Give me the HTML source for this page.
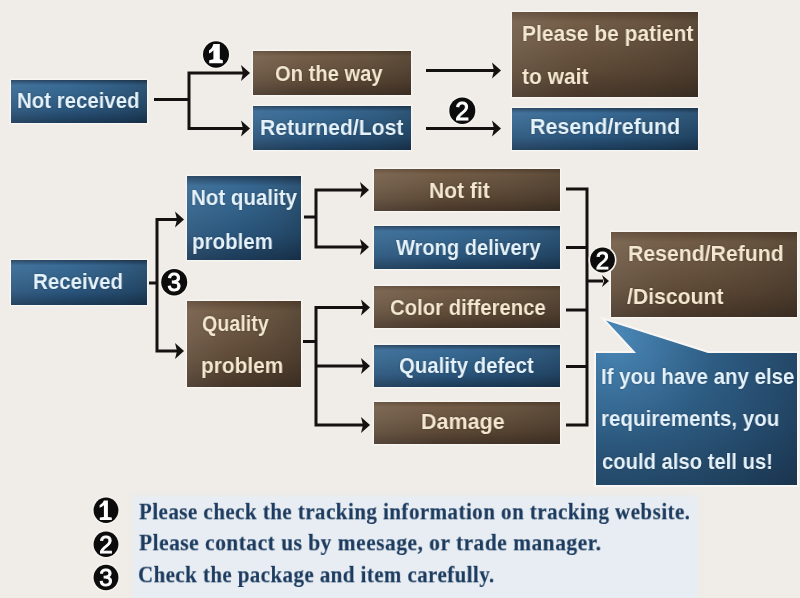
<!DOCTYPE html>
<html><head><meta charset="utf-8"><style>
html,body{margin:0;padding:0;}
body{width:800px;height:598px;overflow:hidden;background:#f0ece7;position:relative;}
.bx{position:absolute;box-sizing:border-box;}
.blue{background:linear-gradient(to right,rgba(255,255,255,0.05) 0%,rgba(0,0,0,0) 40%,rgba(0,0,0,0.12) 80%,rgba(0,0,0,0.22) 100%),linear-gradient(to bottom,#24415e 0%,#396b96 12%,#34648c 35%,#2a557c 70%,#1c3b58 100%);box-shadow:0 0 2px 1px rgba(255,255,255,0.75);}
.brown{background:linear-gradient(to right,rgba(255,255,255,0.07) 0%,rgba(0,0,0,0) 35%,rgba(0,0,0,0.1) 75%,rgba(0,0,0,0.2) 100%),linear-gradient(to bottom,#5e4936 0%,#735d47 12%,#6a5541 40%,#5d4936 70%,#47372a 100%);box-shadow:0 0 2px 1px rgba(255,255,255,0.75);}
.t{position:absolute;font-family:"Liberation Sans",sans-serif;font-weight:bold;font-size:22.5px;line-height:22.5px;white-space:nowrap;transform-origin:0 0;will-change:transform;text-shadow:0 0 2px rgba(0,0,0,0.35);}
.tb{color:#e4f2fb;}
.tr{color:#f4e8d0;}
.notes{position:absolute;font-family:"Liberation Serif",serif;font-weight:bold;font-size:26px;line-height:26px;color:#1c3b5f;-webkit-text-stroke:0.2px #1c3b5f;white-space:nowrap;transform-origin:0 0;will-change:transform;}
</style></head><body><div id="wrap" style="position:absolute;left:0;top:0;width:800px;height:598px;filter:blur(0.3px)">

<div class="bx blue" style="left:11px;top:80px;width:136px;height:43px"></div>
<div class="bx brown" style="left:253px;top:51px;width:158px;height:44px"></div>
<div class="bx blue" style="left:253px;top:106px;width:158px;height:44px"></div>
<div class="bx brown" style="left:512px;top:12px;width:186px;height:85px"></div>
<div class="bx blue" style="left:512px;top:108px;width:186px;height:42px"></div>
<div class="bx blue" style="left:11px;top:260px;width:136px;height:45px"></div>
<div class="bx blue" style="left:187px;top:176px;width:114px;height:84px"></div>
<div class="bx brown" style="left:187px;top:301px;width:114px;height:86px"></div>
<div class="bx brown" style="left:374px;top:169px;width:186px;height:42px"></div>
<div class="bx blue" style="left:374px;top:226px;width:186px;height:43px"></div>
<div class="bx brown" style="left:374px;top:286px;width:186px;height:42px"></div>
<div class="bx blue" style="left:374px;top:345px;width:186px;height:42px"></div>
<div class="bx brown" style="left:374px;top:402px;width:186px;height:42px"></div>
<div class="bx brown" style="left:611px;top:232px;width:186px;height:85px"></div>
<svg class="bx" style="left:0;top:0;will-change:transform" width="800" height="598" viewBox="0 0 800 598">
<defs>
<radialGradient id="cg" gradientUnits="userSpaceOnUse" cx="615" cy="335" r="230">
<stop offset="0" stop-color="#4a88b8"/>
<stop offset="0.45" stop-color="#2e5d84"/>
<stop offset="1" stop-color="#1f3f5e"/>
</radialGradient>
<linearGradient id="cd" x1="0" y1="0" x2="0" y2="1">
<stop offset="0" stop-color="#000" stop-opacity="0"/>
<stop offset="0.6" stop-color="#000" stop-opacity="0"/>
<stop offset="1" stop-color="#000" stop-opacity="0.12"/>
</linearGradient>
<linearGradient id="cr" gradientUnits="userSpaceOnUse" x1="596" y1="0" x2="797" y2="0">
<stop offset="0" stop-color="#000" stop-opacity="0"/>
<stop offset="0.7" stop-color="#000" stop-opacity="0.02"/>
<stop offset="1" stop-color="#000" stop-opacity="0.04"/>
</linearGradient>
</defs>
<path d="M596,353 L636,353 L606,320.5 L708,353 L797,353 L797,485 L596,485 Z" fill="none" stroke="#ffffff" stroke-opacity="0.6" stroke-width="4"/>
<path d="M596,353 L636,353 L606,320.5 L708,353 L797,353 L797,485 L596,485 Z" fill="url(#cg)"/>
<path d="M596,353 L636,353 L606,320.5 L708,353 L797,353 L797,485 L596,485 Z" fill="url(#cd)"/>
<path d="M596,353 L636,353 L606,320.5 L708,353 L797,353 L797,485 L596,485 Z" fill="url(#cr)"/>
</svg>
<div class="t tb" style="left:17.09px;top:90.45px;transform:scaleX(0.9077)">Not received</div>
<div class="t tr" style="left:275.00px;top:62.55px;transform:scaleX(0.8962)">On the way</div>
<div class="t tb" style="left:260.06px;top:117.45px;transform:scaleX(0.9407)">Returned/Lost</div>
<div class="t tr" style="left:521.57px;top:22.95px;transform:scaleX(0.9327)">Please be patient</div>
<div class="t tr" style="left:522.00px;top:66.45px;transform:scaleX(0.9327)">to wait</div>
<div class="t tb" style="left:529.75px;top:116.45px;transform:scaleX(0.9533)">Resend/refund</div>
<div class="t tb" style="left:32.59px;top:271.45px;transform:scaleX(0.9117)">Received</div>
<div class="t tb" style="left:191.29px;top:186.55px;transform:scaleX(0.9116)">Not quality</div>
<div class="t tb" style="left:191.59px;top:230.75px;transform:scaleX(0.9116)">problem</div>
<div class="t tr" style="left:201.60px;top:313.45px;transform:scaleX(0.8755)">Quality</div>
<div class="t tr" style="left:200.67px;top:355.45px;transform:scaleX(0.9268)">problem</div>
<div class="t tr" style="left:429.06px;top:179.95px;transform:scaleX(0.9352)">Not fit</div>
<div class="t tb" style="left:395.75px;top:236.95px;transform:scaleX(0.8926)">Wrong delivery</div>
<div class="t tr" style="left:390.10px;top:296.65px;transform:scaleX(0.9028)">Color difference</div>
<div class="t tb" style="left:398.50px;top:354.70px;transform:scaleX(0.9056)">Quality defect</div>
<div class="t tr" style="left:421.04px;top:411.20px;transform:scaleX(0.9561)">Damage</div>
<div class="t tr" style="left:627.56px;top:242.95px;transform:scaleX(0.9438)">Resend/Refund</div>
<div class="t tr" style="left:627.00px;top:285.75px;transform:scaleX(0.9417)">/Discount</div>
<div class="t tb" style="left:601.49px;top:366.45px;transform:scaleX(0.9101)">If you have any else</div>
<div class="t tb" style="left:601.49px;top:408.45px;transform:scaleX(0.9146)">requirements, you</div>
<div class="t tb" style="left:602.40px;top:451.15px;transform:scaleX(0.8996)">could also tell us!</div>
<svg class="bx" style="left:0;top:0;will-change:transform" width="800" height="598" viewBox="0 0 800 598">
<path d="M154,99.5 L189,99.5" fill="none" stroke="#141210" stroke-width="3.0" stroke-linecap="butt" stroke-linejoin="miter"/>
<path d="M243,73 L189,73 L189,128.5 L243,128.5" fill="none" stroke="#141210" stroke-width="3.0" stroke-linecap="butt" stroke-linejoin="miter"/>
<path d="M250,73 L241,65 L243,73 L241,81 Z" fill="#141210"/>
<path d="M250,128.5 L241,120.5 L243,128.5 L241,136.5 Z" fill="#141210"/>
<path d="M426,70.5 L494,70.5" fill="none" stroke="#141210" stroke-width="3.0" stroke-linecap="butt" stroke-linejoin="miter"/>
<path d="M501,70.5 L492,62.5 L494,70.5 L492,78.5 Z" fill="#141210"/>
<path d="M426,128.5 L494,128.5" fill="none" stroke="#141210" stroke-width="3.0" stroke-linecap="butt" stroke-linejoin="miter"/>
<path d="M501,128.5 L492,120.5 L494,128.5 L492,136.5 Z" fill="#141210"/>
<path d="M149,283 L157,283" fill="none" stroke="#141210" stroke-width="3.0" stroke-linecap="butt" stroke-linejoin="miter"/>
<path d="M177,219.5 L157,219.5 L157,351 L177,351" fill="none" stroke="#141210" stroke-width="3.0" stroke-linecap="butt" stroke-linejoin="miter"/>
<path d="M184,219.5 L175,211.5 L177,219.5 L175,227.5 Z" fill="#141210"/>
<path d="M184,351 L175,343 L177,351 L175,359 Z" fill="#141210"/>
<path d="M304,217 L316,217" fill="none" stroke="#141210" stroke-width="3.0" stroke-linecap="butt" stroke-linejoin="miter"/>
<path d="M362,190 L316,190 L316,247 L362,247" fill="none" stroke="#141210" stroke-width="3.0" stroke-linecap="butt" stroke-linejoin="miter"/>
<path d="M369,190 L360,182 L362,190 L360,198 Z" fill="#141210"/>
<path d="M369,247 L360,239 L362,247 L360,255 Z" fill="#141210"/>
<path d="M303,341.5 L316,341.5" fill="none" stroke="#141210" stroke-width="3.0" stroke-linecap="butt" stroke-linejoin="miter"/>
<path d="M363,307.5 L316,307.5 L316,425 L363,425" fill="none" stroke="#141210" stroke-width="3.0" stroke-linecap="butt" stroke-linejoin="miter"/>
<path d="M316,366 L363,366" fill="none" stroke="#141210" stroke-width="3.0" stroke-linecap="butt" stroke-linejoin="miter"/>
<path d="M370,307.5 L361,299.5 L363,307.5 L361,315.5 Z" fill="#141210"/>
<path d="M370,366 L361,358 L363,366 L361,374 Z" fill="#141210"/>
<path d="M370,425 L361,417 L363,425 L361,433 Z" fill="#141210"/>
<path d="M566,189 L587,189 L587,425 L566,425" fill="none" stroke="#141210" stroke-width="3.0" stroke-linecap="butt" stroke-linejoin="miter"/>
<path d="M566,247.5 L587,247.5" fill="none" stroke="#141210" stroke-width="3.0" stroke-linecap="butt" stroke-linejoin="miter"/>
<path d="M566,310 L587,310" fill="none" stroke="#141210" stroke-width="3.0" stroke-linecap="butt" stroke-linejoin="miter"/>
<path d="M566,366.5 L587,366.5" fill="none" stroke="#141210" stroke-width="3.0" stroke-linecap="butt" stroke-linejoin="miter"/>
<path d="M587,281 L603,281" fill="none" stroke="#141210" stroke-width="3" stroke-linecap="butt" stroke-linejoin="miter"/>
<path d="M609,281 L602,275 L604,281 L602,287 Z" fill="#141210"/>
<ellipse cx="216" cy="54.5" rx="14.6" ry="14.799999999999999" fill="#f6f3ee"/><ellipse cx="216" cy="54.5" rx="13" ry="13.2" fill="#0c0c0c"/><text x="216" y="64.0" text-anchor="middle" font-family='"Liberation Serif",serif' font-weight="bold" font-size="27" fill="#ffffff" stroke="#ffffff" stroke-width="0"></text>
<path d="M213.4,44 L219.8,44 L219.8,59.3 L222.8,60.2 L222.8,63.2 L209.2,63.2 L209.2,60.2 L213.4,59.3 L213.4,50.2 Q211.6,52.4 209.0,53.6 L209.0,50.4 Q212.2,48.6 213.4,44 Z" fill="#ffffff"/>
<ellipse cx="462.3" cy="110.7" rx="14.6" ry="14.799999999999999" fill="#f6f3ee"/><ellipse cx="462.3" cy="110.7" rx="13" ry="13.2" fill="#0c0c0c"/><text x="462.3" y="119.5" text-anchor="middle" font-family='"Liberation Sans",sans-serif' font-weight="normal" font-size="25" fill="#ffffff" stroke="#ffffff" stroke-width="0.9">2</text>
<ellipse cx="174.2" cy="282.2" rx="14.6" ry="14.799999999999999" fill="#f6f3ee"/><ellipse cx="174.2" cy="282.2" rx="13" ry="13.2" fill="#0c0c0c"/><text x="174.2" y="291.0" text-anchor="middle" font-family='"Liberation Sans",sans-serif' font-weight="normal" font-size="25" fill="#ffffff" stroke="#ffffff" stroke-width="0.9">3</text>
<ellipse cx="602.5" cy="260" rx="14.0" ry="14.0" fill="#f6f3ee"/><ellipse cx="602.5" cy="260" rx="12.4" ry="12.4" fill="#0c0c0c"/><text x="602.5" y="268.5" text-anchor="middle" font-family='"Liberation Sans",sans-serif' font-weight="normal" font-size="24" fill="#ffffff" stroke="#ffffff" stroke-width="0.9">2</text>
<ellipse cx="106" cy="510.3" rx="14.0" ry="14.4" fill="#f6f3ee"/><ellipse cx="106" cy="510.3" rx="12.4" ry="12.8" fill="#0c0c0c"/><text x="106" y="518.8" text-anchor="middle" font-family='"Liberation Sans",sans-serif' font-weight="normal" font-size="24" fill="#ffffff" stroke="#ffffff" stroke-width="1.1"></text>
<path d="M103.9,500.4 L107.9,500.4 L107.9,516.9 L111.8,517.4 L111.8,519.9 L99.8,519.9 L99.8,517.4 L103.9,516.9 L103.9,505.2 Q102.0,506.9 99.6,507.7 L99.6,505.3 Q102.7,503.7 103.9,500.4 Z" fill="#ffffff"/>
<ellipse cx="106" cy="544.3" rx="14.0" ry="14.4" fill="#f6f3ee"/><ellipse cx="106" cy="544.3" rx="12.4" ry="12.8" fill="#0c0c0c"/><text x="106" y="552.8" text-anchor="middle" font-family='"Liberation Sans",sans-serif' font-weight="normal" font-size="24" fill="#ffffff" stroke="#ffffff" stroke-width="0.9">2</text>
<ellipse cx="106" cy="577.5" rx="14.0" ry="14.4" fill="#f6f3ee"/><ellipse cx="106" cy="577.5" rx="12.4" ry="12.8" fill="#0c0c0c"/><text x="106" y="586.0" text-anchor="middle" font-family='"Liberation Sans",sans-serif' font-weight="normal" font-size="24" fill="#ffffff" stroke="#ffffff" stroke-width="0.9">3</text>
</svg>
<div class="bx" style="left:135px;top:497px;width:561px;height:110px;background:#e7edf2;box-shadow:0 0 5px 2px #e7edf2"></div>
<div class="notes" style="left:139.00px;top:499.77px;letter-spacing:0.6px;transform:scale(0.8054,0.92)">Please check the tracking information on tracking website.</div>
<div class="notes" style="left:139.00px;top:530.97px;letter-spacing:0.6px;transform:scale(0.8254,0.92)">Please contact us by meesage, or trade manager.</div>
<div class="notes" style="left:138.20px;top:562.77px;letter-spacing:0.6px;transform:scale(0.8017,0.92)">Check the package and item carefully.</div>
</div></body></html>
